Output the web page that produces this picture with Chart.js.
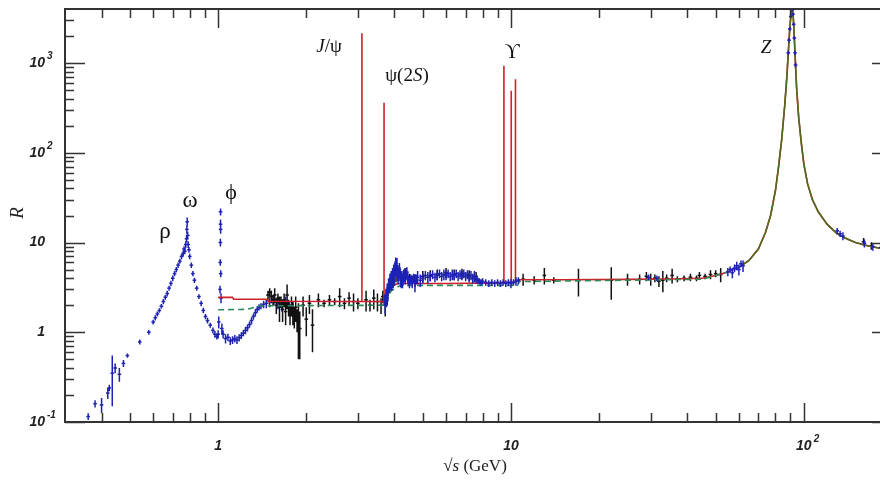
<!DOCTYPE html>
<html>
<head>
<meta charset="utf-8">
<script src="https://cdn.jsdelivr.net/npm/chart.js@4.4.0/dist/chart.umd.min.js"></script>
<style>
  html, body { margin: 0; padding: 0; background: #fff; overflow: hidden; }
  #wrap { width: 900px; height: 481px; }
</style>
</head>
<body>
<div id="wrap"><canvas id="rplot" width="900" height="481"></canvas></div>
<script>
// low energy e+e- data (blue), sqrt(s) in GeV
const lowE = [0.36,0.38,0.40,0.42,0.425,0.435,0.445,0.46,0.475,0.49,0.54,0.58,0.60,0.61,0.62,0.63,0.64,0.65,0.66,0.67,
  0.68,0.69,0.70,0.71,0.72,0.73,0.74,0.75,0.76,0.765,0.77,0.775,0.78,0.782,0.784,0.787,0.79,0.795,0.80,0.81,
  0.82,0.83,0.845,0.86,0.875,0.89,0.905,0.92,0.94,0.96,0.975,0.99,1.0,1.005,1.015,1.017,1.018,1.019,1.0195,1.02,
  1.021,1.023,1.03,1.04,1.06,1.08,1.10,1.12,1.14,1.16,1.18,1.20,1.22,1.24,1.26,1.28,1.30,1.32,1.34,1.36,
  1.38,1.40,1.43,1.46,1.50,1.55,1.60,1.65,1.70,1.75,1.80];
const lowR = [0.115,0.16,0.155,0.21,0.24,0.35,0.40,0.34,0.45,0.55,0.78,1.0,1.3,1.45,1.6,1.75,1.95,2.2,2.45,2.7,
  3.1,3.5,4.0,4.5,5.0,5.6,6.2,7.0,7.6,8.5,8.0,9.5,11,14,17,12,9.5,8.3,7.0,5.6,
  4.5,3.8,3.1,2.5,2.1,1.75,1.5,1.35,1.2,1.05,0.95,0.9,0.95,1.3,3,6,10,16,22,14,
  4.5,2.4,1.1,0.95,0.85,0.88,0.8,0.82,0.85,0.82,0.87,0.92,0.98,1.05,1.12,1.22,1.35,1.5,1.65,1.8,
  1.9,1.95,2.05,2.1,2.2,2.3,2.1,2.0,2.2,1.9,1.8];
const lowErr = [0.01,0.015,0.03,0.03,0.02,0.2,0.05,0.06,0.04,0.03,0.05,0.06,0.08,0.1,0.1,0.1,0.12,0.15,0.15,0.2,
  0.2,0.25,0.3,0.3,0.35,0.4,0.4,0.5,0.6,0.6,0.6,0.8,1.0,1.5,2,1.2,0.8,0.6,0.5,0.4,
  0.3,0.25,0.2,0.15,0.15,0.12,0.1,0.1,0.08,0.08,0.08,0.07,0.1,0.2,0.3,0.5,1,2,2,1.5,
  0.4,0.3,0.15,0.1,0.1,0.08,0.08,0.08,0.08,0.08,0.08,0.08,0.08,0.1,0.1,0.1,0.12,0.12,0.15,0.15,
  0.15,0.15,0.2,0.25,0.3,0.3,0.3,0.3,0.3,0.3,0.3];

// other experiments (black)
const blackE = [1.48,1.50,1.52,1.54,1.56,1.58,1.60,1.62,1.64,1.66,1.68,1.70,1.72,1.74,1.76,1.78,1.80,1.82,1.84,1.86,
  1.88,1.90,1.95,2.00,2.05,2.10,2.2,2.3,2.4,2.5,2.6,2.7,2.8,2.9,3.0,3.2,3.3,3.4,3.5,3.6,
  3.65,3.72,3.78,3.9,4.05,4.2,4.35,4.5,4.7,5.0,5.3,5.6,6.0,6.4,6.8,7.2,7.6,11.0,12.0,13.0,
  14.0,17.0,22.0,25.0,27.5,29.0,30.0,31.0,32.0,33.0,34.0,35.5,37.0,39.0,41.0,43.0,44.0,46.0,48.0,50.0,
  52.0,160,170];
const blackR = [2.6,2.8,2.5,2.3,2.6,2.0,2.4,1.9,2.2,1.8,2.3,1.7,2.6,1.9,1.6,2.0,1.7,1.5,1.9,1.4,
  1.3,1.1,2.0,1.4,2.1,1.2,2.3,2.1,2.3,2.2,2.5,2.1,2.4,2.2,2.1,2.3,2.0,2.4,2.2,2.0,
  2.5,2.0,2.6,3.8,4.8,4.0,4.4,3.9,3.8,4.2,4.3,4.4,4.6,4.4,4.5,4.3,4.2,3.9,3.8,4.3,
  3.8,3.8,3.8,3.9,3.9,4.2,3.9,4.0,3.7,3.8,4.0,4.3,3.9,4.0,4.1,4.0,4.3,4.2,4.4,4.5,
  4.4,10.2,9.2];
const blackErr = [0.3,0.3,0.4,0.3,0.5,0.4,0.3,0.6,0.3,0.5,0.4,0.5,0.8,0.4,0.4,0.5,0.5,0.4,0.6,0.4,
  0.8,0.6,0.5,0.5,0.5,0.6,0.4,0.2,0.3,0.2,0.6,0.3,0.4,0.5,0.3,0.6,0.3,0.6,0.5,0.4,
  0.4,0.5,0.6,0.8,1.2,0.8,0.8,0.6,0.6,0.6,0.6,0.6,0.6,0.6,0.6,0.6,0.5,0.6,0.4,0.9,
  0.3,1.3,1.5,0.6,0.5,0.5,0.6,0.4,0.5,1.0,0.4,0.8,0.3,0.3,0.4,0.3,0.4,0.3,0.5,0.4,
  0.8,1.0,0.9];

// charm region, continuum, Z and above (blue)
const blueE = [3.70,3.72,3.74,3.76,3.78,3.80,3.82,3.84,3.86,3.88,3.90,3.92,3.94,3.96,3.98,4.00,4.02,4.04,4.06,4.08,
  4.10,4.12,4.14,4.16,4.18,4.20,4.22,4.24,4.26,4.28,4.30,4.32,4.35,4.38,4.41,4.44,4.47,4.50,4.55,4.60,
  4.65,4.70,4.75,4.80,4.90,5.00,5.10,5.20,5.30,5.40,5.50,5.60,5.70,5.80,5.90,6.00,6.10,6.20,6.30,6.40,
  6.50,6.60,6.70,6.80,6.90,7.00,7.10,7.20,7.30,7.40,7.50,7.60,7.70,7.80,7.90,8.00,8.20,8.40,8.60,8.80,
  9.00,9.20,9.40,9.60,9.80,10.0,10.2,10.4,10.6,29.5,31.5,55,56,57,58,59,60,61,62,
  88.5,89.0,89.5,90.2,91.0,91.3,91.8,92.3,92.8,93.3,93.7,130,133,136,161,172,183,189];
const blueR = [2.3,2.0,2.6,2.4,3.0,2.8,3.4,3.2,3.8,3.5,4.0,3.6,4.4,4.0,4.8,4.3,5.2,5.8,5.0,5.5,
  4.6,4.2,4.5,5.0,4.6,4.0,3.8,4.1,3.7,3.9,4.3,4.4,4.0,4.5,4.7,4.1,3.8,3.6,3.9,3.7,
  4.0,3.6,3.9,4.1,3.8,4.0,4.3,4.1,4.2,4.4,4.1,4.3,4.5,4.2,4.4,4.3,4.5,4.2,4.4,4.3,
  4.5,4.2,4.4,4.3,4.5,4.2,4.4,4.1,4.3,4.0,4.2,3.9,3.8,3.7,3.6,3.7,3.6,3.5,3.6,3.5,
  3.6,3.5,3.6,3.5,3.6,3.5,3.6,3.7,3.8,4.1,4.0,4.7,5.0,4.6,5.2,5.5,5.0,5.8,5.5,
  1300,1800,2400,3300,4000,3900,3500,2700,1900,1300,950,13.5,12.5,11.8,9.8,9.0,8.8,8.6];
const blueErr = [0.3,0.4,0.4,0.5,0.5,0.6,0.6,0.5,0.7,0.6,0.8,0.7,0.8,0.9,0.9,1.0,1.0,1.0,0.9,1.2,
  0.9,0.8,0.8,0.9,0.7,0.8,0.7,0.7,0.6,0.6,0.7,0.6,0.6,0.7,0.6,0.6,0.5,0.5,0.5,0.6,
  0.5,0.8,0.5,0.7,0.6,0.5,0.5,0.6,0.5,0.5,0.5,0.5,0.5,0.5,0.6,0.5,0.5,0.5,0.6,0.5,
  0.5,0.5,0.5,0.5,0.5,0.5,0.5,0.5,0.5,0.5,0.6,0.4,0.3,0.3,0.3,0.3,0.3,0.3,0.3,0.3,
  0.3,0.3,0.3,0.3,0.3,0.4,0.3,0.4,0.3,0.3,0.3,0.5,0.4,0.6,0.5,0.6,0.7,0.5,0.8,
  80,100,120,150,150,150,150,120,100,80,60,1.0,1.0,1.2,1.0,0.9,0.9,0.9];

// 3-loop pQCD prediction (red), with narrow resonance spikes
const qcdE = [1.0,1.12,1.13,1.47,1.48,3.097,3.097,3.097,3.686,3.686,3.686,3.75,3.85,3.95,4.1,6.0,
  9.46,9.46,9.46,10.02,10.02,10.02,10.36,10.36,10.36,10.6,15,25,35,45];
const qcdR = [2.45,2.45,2.33,2.33,2.22,2.2,2150,2.2,2.2,360,2.2,2.5,3.0,3.3,3.5,3.5,
  3.55,930,3.55,3.6,490,3.6,3.6,660,3.65,3.85,3.85,3.88,3.92,4.0];

// naive quark parton model (green dashed)
const partonE = [1.0,1.25,1.4,3.7,3.9,4.2,10.5,10.7,45];
const partonR = [1.78,1.8,1.97,2.0,2.9,3.33,3.33,3.67,3.9];

// Z lineshape shared by both curves
const zE = [50,55,60,65,70,74,77,80,82,84,86,87.5,88.5,89.5,90.4,91.2,92.0,92.8,93.6,94.5,
  96,98,100,103,107,112,120,130,140,150,165,180,200];
const zR = [4.3,4.7,5.3,6.3,8.5,13,20,38,70,140,330,700,1300,2400,3500,4200,3300,1900,1000,520,
  250,130,75,45,30,22,16,12.5,11,10,9.2,8.7,8.2];

// axis ticks
const xMajor = [1, 10, 100];
const xMinor = [0.4,0.5,0.6,0.7,0.8,0.9,2,3,4,5,6,7,8,9,20,30,40,50,60,70,80,90];
const xLabels = ['1', '10', '10^2'];
const yMajor = [0.1, 1, 10, 100, 1000];
const yMinor = [0.2,0.3,0.4,0.5,0.6,0.7,0.8,0.9,2,3,4,5,6,7,8,9,20,30,40,50,60,70,80,90,
  200,300,400,500,600,700,800,900,2000,3000];
const yLabels = ['10^-1', '1', '10', '10^2', '10^3'];

function toPoints(E, R) {
  return E.map((e, i) => ({x: e, y: R[i]}));
}
function errorBars(E, R, err) {
  const pts = [];
  E.forEach((e, i) => {
    const d = err[i] || 0;
    pts.push({x: e, y: Math.max(R[i] - d, 0.01)}, {x: e, y: R[i] + d}, {x: e, y: null});
  });
  return pts;
}

const blue = '#1e22b4';
const tickFont = 'italic bold 14px "Liberation Sans", Arial, sans-serif';
const expFont = 'italic bold 10px "Liberation Sans", Arial, sans-serif';
const serif = '"Liberation Serif", "DejaVu Serif", serif';

function drawPow(ctx, label, px, py, align) {
  const parts = label.split('^');
  ctx.font = tickFont;
  const bw = ctx.measureText(parts[0]).width;
  const bx = align === 'right' ? px - bw : px - bw / 2;
  ctx.textAlign = 'left';
  ctx.textBaseline = 'middle';
  ctx.fillText(parts[0], bx, py);
  if (parts[1]) {
    ctx.font = expFont;
    ctx.fillText(parts[1], bx + bw + 2, py - 7);
  }
}

function drawRuns(ctx, runs, cx, cy, size) {
  let w = 0;
  runs.forEach(r => {
    ctx.font = (r[1] ? 'italic ' : '') + size + 'px ' + serif;
    w += ctx.measureText(r[0]).width;
  });
  let x0 = cx - w / 2;
  ctx.textAlign = 'left';
  ctx.textBaseline = 'middle';
  runs.forEach(r => {
    ctx.font = (r[1] ? 'italic ' : '') + size + 'px ' + serif;
    ctx.fillText(r[0], x0, cy);
    x0 += ctx.measureText(r[0]).width;
  });
}

const frame = {
  id: 'frame',
  afterDraw(chart) {
    const {ctx, chartArea: a, scales: {x, y}} = chart;
    ctx.save();
    ctx.strokeStyle = '#333';
    ctx.lineWidth = 2;
    ctx.strokeRect(a.left, a.top, a.right - a.left, a.bottom - a.top);

    ctx.lineWidth = 1.5;
    ctx.beginPath();
    const xt = (v, len) => {
      const px = Math.round(x.getPixelForValue(v)) + 0.5;
      ctx.moveTo(px, a.bottom); ctx.lineTo(px, a.bottom - len);
      ctx.moveTo(px, a.top); ctx.lineTo(px, a.top + len);
    };
    const yt = (v, len) => {
      const py = Math.round(y.getPixelForValue(v)) + 0.5;
      ctx.moveTo(a.left, py); ctx.lineTo(a.left + len, py);
      ctx.moveTo(a.right, py); ctx.lineTo(a.right - len, py);
    };
    xMajor.forEach(v => xt(v, 19));
    xMinor.forEach(v => xt(v, 9));
    yMajor.forEach(v => yt(v, 20));
    yMinor.forEach(v => yt(v, 9));
    ctx.stroke();

    ctx.fillStyle = '#222';
    xMajor.forEach((v, i) => drawPow(ctx, xLabels[i], x.getPixelForValue(v), a.bottom + 24, 'center'));
    yMajor.forEach((v, i) => drawPow(ctx, yLabels[i], 45, y.getPixelForValue(v), 'right'));

    // axis titles
    drawRuns(ctx, [['\u221A', false], ['s', true], [' (GeV)', false]], 475, 467, 17);
    ctx.save();
    ctx.translate(18, 213);
    ctx.rotate(-Math.PI / 2);
    drawRuns(ctx, [['R', true]], 0, 0, 19);
    ctx.restore();

    // resonance names
    ctx.fillStyle = '#111';
    drawRuns(ctx, [['\u03C1', false]], 165, 232, 23);
    drawRuns(ctx, [['\u03C9', false]], 190, 201, 23);
    drawRuns(ctx, [['\u03D5', false]], 231, 193, 22);
    drawRuns(ctx, [['J', true], ['/\u03C8', false]], 329, 47, 19);
    drawRuns(ctx, [['\u03C8(2', false], ['S', true], [')', false]], 407, 76, 19);
    drawRuns(ctx, [['\u03D2', false]], 512, 52, 21);
    drawRuns(ctx, [['Z', true]], 766, 48, 19);
    ctx.restore();
  }
};

new Chart(document.getElementById('rplot'), {
  type: 'scatter',
  data: {
    datasets: [
      {
        data: toPoints(blueE, blueR), order: 1,
        pointStyle: 'line', pointRadius: 1.8, borderColor: blue, borderWidth: 1.5
      },
      {
        data: errorBars(blueE, blueR, blueErr), order: 2, showLine: true, spanGaps: false,
        pointRadius: 0, borderColor: blue, borderWidth: 1.5
      },
      {
        data: toPoints(partonE.concat(zE), partonR.concat(zR)), order: 3, showLine: true,
        pointRadius: 0, borderColor: '#2a8a5a', borderWidth: 1.6, borderDash: [6, 4],
        segment: {
          borderColor: c => c.p0.parsed.x >= 60 ? '#4f6d1f' : undefined,
          borderDash: c => c.p0.parsed.x >= 60 ? [] : undefined
        }
      },
      {
        data: toPoints(qcdE.concat(zE), qcdR.concat(zR)), order: 4, showLine: true,
        pointRadius: 0, borderColor: '#d0202a', borderWidth: 1.6
      },
      {
        data: toPoints(blackE, blackR), order: 5,
        pointStyle: 'line', pointRadius: 1.8, borderColor: '#111', borderWidth: 1.5
      },
      {
        data: errorBars(blackE, blackR, blackErr), order: 6, showLine: true, spanGaps: false,
        pointRadius: 0, borderColor: '#111', borderWidth: 1.5
      },
      {
        data: toPoints(lowE, lowR), order: 7,
        pointStyle: 'line', pointRadius: 1.8, borderColor: blue, borderWidth: 1.5
      },
      {
        data: errorBars(lowE, lowR, lowErr), order: 8, showLine: true, spanGaps: false,
        pointRadius: 0, borderColor: blue, borderWidth: 1.5
      }
    ]
  },
  options: {
    responsive: false,
    animation: false,
    layout: { padding: { left: 65, right: 8, top: 9, bottom: 59 } },
    plugins: { legend: { display: false }, tooltip: { enabled: false } },
    scales: {
      x: { type: 'logarithmic', min: 0.3, max: 200, display: false },
      y: { type: 'logarithmic', min: 0.1, max: 4000, display: false }
    }
  },
  plugins: [frame]
});
</script>
</body>
</html>
